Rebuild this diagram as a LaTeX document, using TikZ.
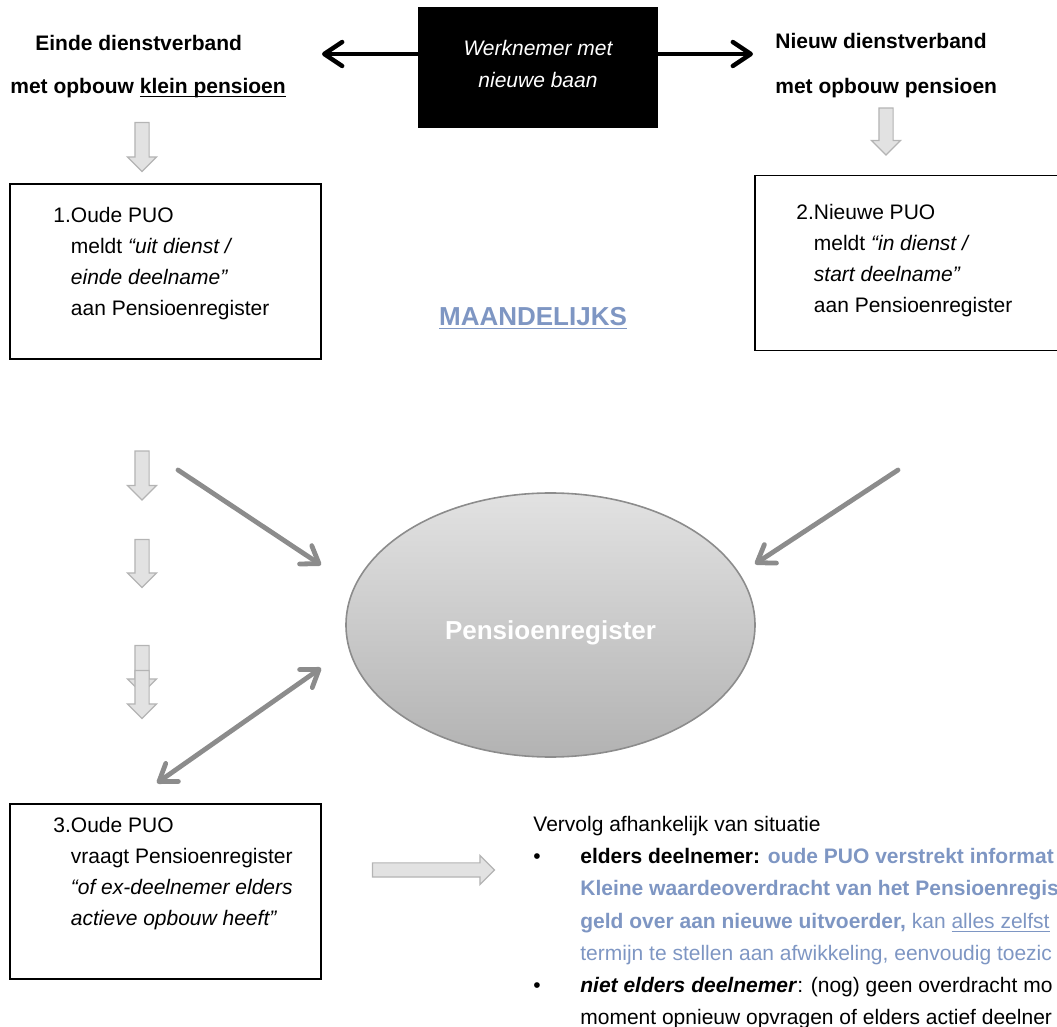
\documentclass[tikz,border=0pt]{standalone}
\usepackage{fontspec}
\setmainfont{Liberation Sans}
\usetikzlibrary{shapes.geometric,shapes.arrows,arrows.meta}

\definecolor{regblue}{HTML}{7E96C3}
\definecolor{arrgray}{HTML}{8C8C8C}
\definecolor{holfill}{HTML}{E2E2E2}
\definecolor{holline}{HTML}{B4B4B4}
\newcommand\ulin[1]{\leavevmode\setbox0\hbox{#1}\rlap{\rule[-1.8pt]{\wd0}{0.6pt}}\box0}

\begin{document}
\begin{tikzpicture}[x=0.5pt, y=-0.5pt,
    txt/.style={inner sep=0pt, anchor=west, align=left,
                font=\fontsize{10.5}{15.5}\selectfont},
    lbl/.style={inner sep=0pt, anchor=west,
                font=\fontsize{10.5}{12}\selectfont\bfseries},
    box/.style={draw, line width=0.9pt, minimum width=#1,
                minimum height=87.5pt, inner sep=0pt},
    hol/.style={single arrow, draw=holline, fill=holfill, line width=0.6pt,
                inner xsep=0pt, inner ysep=3.25pt,
                single arrow head extend=3.75pt, minimum height=#1},
    barr/.style={line width=2.2pt, line cap=round,
                 -{Straight Barb[length=9pt,width=12pt,round]}},
    garr/.style={arrgray, line width=2.4pt, line cap=round,
                 >={Straight Barb[length=8pt,width=11pt,round]}},
]
    \useasboundingbox (0,0) rectangle (1057,1027);
    \clip (0,0) rectangle (1057,1027);

    \node[fill=black, minimum width=120pt, minimum height=60.5pt, inner sep=0pt] (emp) at (538,67.5) {};
    \node[txt, anchor=center, align=center, text=white,
          font=\fontsize{10.5}{16}\selectfont\itshape] (empt) at (538,64) {Werknemer met\\nieuwe baan};

    \coordinate (lefttip)  at (322,54);
    \coordinate (righttip) at (753,54);
    \draw[barr] (emp.west |- lefttip)  -- (lefttip);
    \draw[barr] (emp.east |- righttip) -- (righttip);

    \node[lbl] (einde)  at (35,43)  {Einde dienstverband};
    \node[lbl] (einde2) at (10,88)  {met opbouw \ulin{klein pensioen}};
    \node[lbl] (nieuw)  at (775,41) {Nieuw dienstverband};
    \node[lbl] (nieuw2) at (775,88) {met opbouw pensioen};

    \node[hol=24.5pt, rotate=-90] (d0) at (142,143.5) {};
    \node[hol=23.5pt, rotate=-90] (d1) at (886,128) {};
    \node[hol=24.5pt, rotate=-90] (d2) at (142,472) {};
    \node[hol=24pt, rotate=-90]   (d3) at (142,560) {};
    \node[hol=24pt, rotate=-90]   (d4) at (142,666) {};
    \node[hol=24pt, rotate=-90]   (d5) at (142,691) {};
    \node[hol=61pt]               (r1) at (430,870) {};

    \node[box=155.5pt] (oud1) at (165.5,271.5) {};
    \node[txt] (oud1t) at (53,264) {1.Oude PUO\\
        \phantom{1.}meldt \textit{“uit dienst /}\\
        \phantom{1.}\textit{einde deelname”}\\
        \phantom{1.}aan Pensioenregister};

    \node[box=160pt] (nieuwpuo) at (915,263) {};
    \node[txt] (nieuwpuot) at (796,261) {2.Nieuwe PUO\\
        \phantom{2.}meldt \textit{“in dienst /}\\
        \phantom{2.}\textit{start deelname”}\\
        \phantom{2.}aan Pensioenregister};

    \node[box=155.5pt] (oud3) at (165.5,891.5) {};
    \node[txt] (oud3t) at (53,874) {3.Oude PUO\\
        \phantom{3.}vraagt Pensioenregister\\
        \phantom{3.}\textit{“of ex-deelnemer elders}\\
        \phantom{3.}\textit{actieve opbouw heeft”}};

    \node[inner sep=0pt, text=regblue, font=\fontsize{13}{15}\selectfont\bfseries] (maand) at (533,318) {\ulin{MAANDELIJKS}};

    \node[ellipse, draw=arrgray, line width=0.8pt, top color=holfill, bottom color=gray!60,
          minimum width=204.5pt, minimum height=132pt, inner sep=0pt] (reg) at (550.5,625) {};
    \node[inner sep=0pt, text=white, font=\fontsize{13}{15}\selectfont\bfseries] (regt) at (550.5,633) {Pensioenregister};

    \coordinate (g1s) at (178,470);
    \coordinate (g1e) at (321,565);
    \coordinate (g2s) at (898,470);
    \coordinate (g2e) at (755,564);
    \coordinate (g3s) at (157,783);
    \coordinate (g3e) at (321,668);
    \draw[garr, ->]  (g1s) -- (g1e);
    \draw[garr, ->]  (g2s) -- (g2e);
    \draw[garr, <->] (g3s) -- (g3e);

    \node[txt, font=\fontsize{10.5}{16.1}\selectfont] (vervolg) at (533,922.75) {Vervolg afhankelijk van situatie\\
        \makebox[23.5pt][l]{•}\textbf{elders deelnemer: \textcolor{regblue}{oude PUO verstrekt informat}}\\
        \hspace*{23.5pt}\textcolor{regblue}{\textbf{Kleine waardeoverdracht van het Pensioenregis}}\\
        \hspace*{23.5pt}\textcolor{regblue}{\textbf{geld over aan nieuwe uitvoerder,} kan \ulin{alles zelfst}}\\
        \hspace*{23.5pt}\textcolor{regblue}{termijn te stellen aan afwikkeling, eenvoudig toezic}\\
        \makebox[23.5pt][l]{•}\textbf{\textit{niet elders deelnemer}}: (nog) geen overdracht mo\\
        \hspace*{23.5pt}moment opnieuw opvragen of elders actief deelner};
\end{tikzpicture}
\end{document}
